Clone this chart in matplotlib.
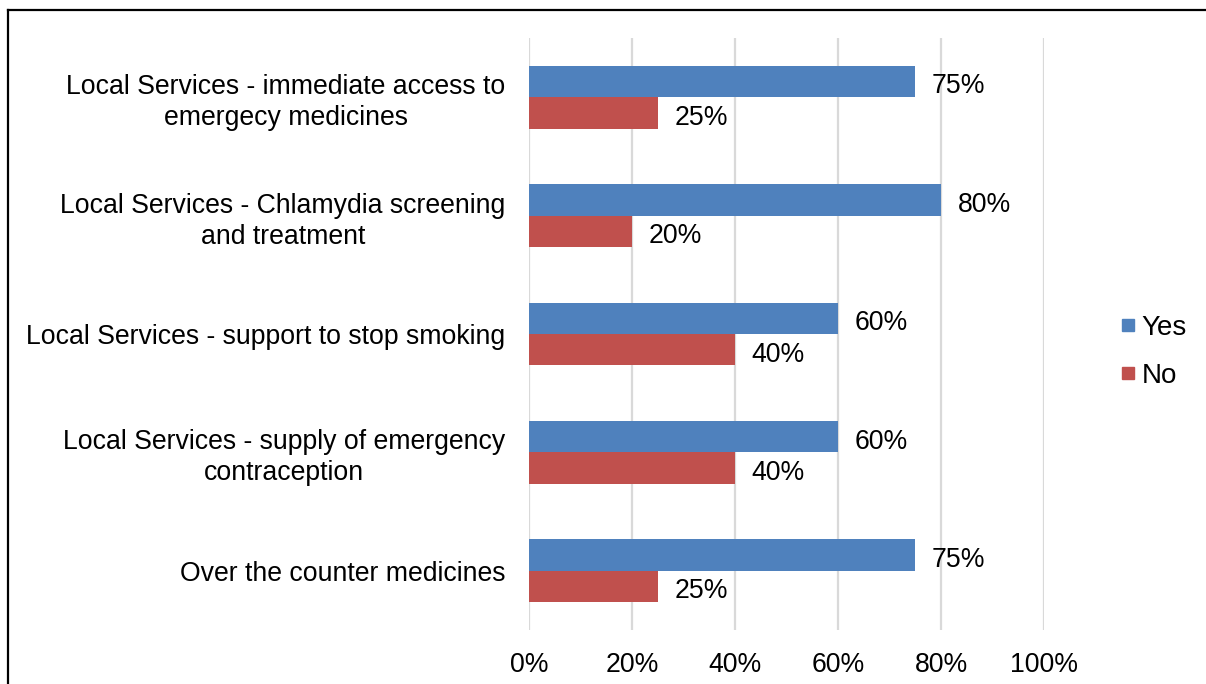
import matplotlib.pyplot as plt
from matplotlib.lines import Line2D
import numpy as np

plt.rcParams['font.family'] = ['Liberation Sans', 'DejaVu Sans']

categories = ['Local Services - immediate access to\nemergecy medicines',
              'Local Services - Chlamydia screening\nand treatment',
              'Local Services - support to stop smoking',
              'Local Services - supply of emergency\ncontraception',
              'Over the counter medicines']
yes_vals = [75, 80, 60, 60, 75]
no_vals = [25, 20, 40, 40, 25]
xticks = [0, 20, 40, 60, 80, 100]

blue = '#4F81BD'
red = '#C0504D'

fig = plt.figure(figsize=(12.06, 6.84), dpi=100)
ax = fig.add_axes([529/1206, 1 - 630/684, (1044-529)/1206, (630-38)/684])

y = np.arange(len(categories))
h = 0.265
ax.barh(y - h/2, yes_vals, height=h, color=blue, label='Yes', zorder=3)
ax.barh(y + h/2, no_vals, height=h, color=red, label='No', zorder=3)

fs = 19.2
for yi, v in zip(y, yes_vals):
    ax.annotate(f'{v}%', (v, yi - h/2), xytext=(12, -3.5), textcoords='offset points',
                va='center', ha='left', fontsize=fs)
for yi, v in zip(y, no_vals):
    ax.annotate(f'{v}%', (v, yi + h/2), xytext=(12, -3.5), textcoords='offset points',
                va='center', ha='left', fontsize=fs)

ax.set_ylim(len(categories) - 0.5, -0.5)
ax.set_xlim(0, 100)
ax.set_yticks(y)
ax.set_yticklabels(categories, fontsize=fs, ha='right', multialignment='center',
                   linespacing=1.25)
ax.set_xticks(xticks)
ax.set_xticklabels([f'{t}%' for t in xticks], fontsize=fs)
ax.tick_params(axis='both', length=0)
ax.tick_params(axis='y', pad=17)
ax.tick_params(axis='x', pad=16)
ax.grid(axis='x', color='#D9D9D9', linewidth=1.6, zorder=0)
for s in ax.spines.values():
    s.set_visible(False)

handles = [Line2D([], [], marker='s', linestyle='none', markersize=9, color=blue),
           Line2D([], [], marker='s', linestyle='none', markersize=9, color=red)]
fig.legend(handles, ['Yes', 'No'], loc='center left', bbox_to_anchor=(1114/1206, 1 - 352/684),
           frameon=False, fontsize=fs + 0.8, handletextpad=0.0, labelspacing=0.8, handlelength=1.0,
           borderpad=0, borderaxespad=0)

# outer border (top and left visible)
fig.add_artist(Line2D([8/1206, 1], [1 - 10/684, 1 - 10/684], color='black', linewidth=1.6,
                      transform=fig.transFigure))
fig.add_artist(Line2D([8/1206, 8/1206], [0, 1 - 10/684], color='black', linewidth=1.6,
                      transform=fig.transFigure))

fig.savefig('out.png', dpi=100)
